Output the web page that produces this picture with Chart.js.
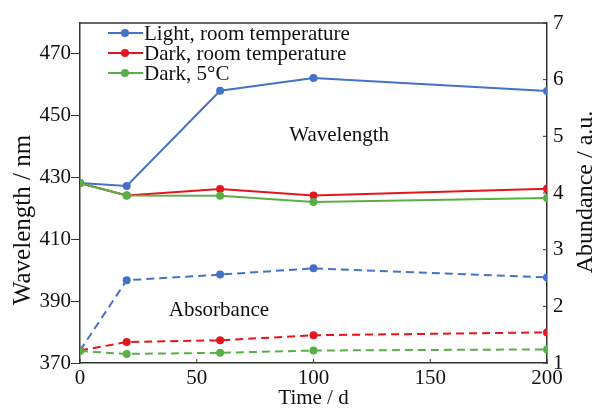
<!DOCTYPE html>
<html>
<head>
<meta charset="utf-8">
<script src="https://cdn.jsdelivr.net/npm/chart.js@4.4.1/dist/chart.umd.min.js"></script>
<style>
  html, body { margin: 0; padding: 0; background: #fff; }
  #wrap { width: 595px; height: 412px; }
</style>
</head>
<body>
<div id="wrap"><canvas id="chart" width="595" height="412"></canvas></div>
<script>
// time axis (days)
const days = [0, 20, 60, 100, 200];
const seriesNames = ['Light, room temperature', 'Dark, room temperature', 'Dark, 5°C'];
const seriesColors = ['#4472c4', '#e3161d', '#5aae48'];

// wavelength / nm (left axis, solid)
const wlLight = [428.2, 427.3, 458.1, 462.2, 458.0];
const wlDarkRoom = [428.2, 424.2, 426.3, 424.2, 426.4];
const wlDark5 = [428.2, 424.2, 424.1, 422.1, 423.4];

// abundance / a.u. (right axis, dashed)
const abLight = [1.22, 2.46, 2.56, 2.67, 2.51];
const abDarkRoom = [1.22, 1.37, 1.40, 1.49, 1.54];
const abDark5 = [1.21, 1.16, 1.18, 1.22, 1.24];

const dayTicks = [0, 50, 100, 150, 200];
const wlTicks = [370, 390, 410, 430, 450, 470];
const abTicks = [1, 2, 3, 4, 5, 6, 7];

const FONT = 'Liberation Serif, Times New Roman, serif';

function pts(ys) {
    return days.map((d, i) => ({ x: d, y: ys[i] }));
}

function line(idx, ys, axis, dashed) {
    return {
        label: seriesNames[idx],
        data: pts(ys),
        yAxisID: axis,
        order: 2 - idx, // green drawn on top, like the original
        borderColor: seriesColors[idx],
        backgroundColor: seriesColors[idx],
        borderWidth: 2,
        borderDash: dashed ? [8, 5] : [],
        pointRadius: 4,
        pointHoverRadius: 4,
        pointBorderWidth: 0,
        fill: false,
        tension: 0
    };
}

function vText(ctx, text, x, y) {
    ctx.save();
    ctx.translate(x, y);
    ctx.rotate(-Math.PI / 2);
    ctx.fillText(text, 0, 0);
    ctx.restore();
}

// frame, inward ticks, legend, axis titles and in-plot labels
const extras = {
    id: 'extras',
    afterDraw(chart) {
        const ctx = chart.ctx;
        const a = chart.chartArea;
        const x = chart.scales.x;
        const yr = chart.scales.yr;
        const yl = chart.scales.y;
        ctx.save();
        ctx.strokeStyle = '#333';
        ctx.lineWidth = 1.5;
        ctx.beginPath();
        ctx.moveTo(a.left, a.top);
        ctx.lineTo(a.right, a.top);
        ctx.stroke();

        ctx.lineWidth = 1;
        ctx.beginPath();
        dayTicks.forEach(v => {
            const px = x.getPixelForValue(v);
            ctx.moveTo(px, a.bottom);
            ctx.lineTo(px, a.bottom - 4);
        });
        abTicks.forEach(v => {
            const py = yr.getPixelForValue(v);
            ctx.moveTo(a.right, py);
            ctx.lineTo(a.right - 4, py);
        });
        ctx.stroke();

        // legend
        ctx.font = '21px ' + FONT;
        ctx.textBaseline = 'middle';
        ctx.textAlign = 'left';
        seriesNames.forEach((n, i) => {
            const ly = a.top + 10 + i * 20;
            ctx.strokeStyle = seriesColors[i];
            ctx.fillStyle = seriesColors[i];
            ctx.lineWidth = 2;
            ctx.beginPath();
            ctx.moveTo(a.left + 28, ly);
            ctx.lineTo(a.left + 63, ly);
            ctx.stroke();
            ctx.beginPath();
            ctx.arc(a.left + 45, ly, 4, 0, Math.PI * 2);
            ctx.fill();
            ctx.fillStyle = '#111';
            ctx.fillText(n, a.left + 64, ly + 1);
        });

        ctx.textAlign = 'center';
        ctx.fillText('Wavelength', x.getPixelForValue(111), yl.getPixelForValue(443.7));
        ctx.fillText('Absorbance', x.getPixelForValue(59.5), yl.getPixelForValue(387));

        // axis titles
        ctx.fillText('Time / d', (a.left + a.right) / 2, 398);
        ctx.font = '25px ' + FONT;
        vText(ctx, 'Wavelength / nm', 23, 220);
        ctx.font = '24px ' + FONT;
        vText(ctx, 'Abundance / a.u.', 586, 192);
        ctx.restore();
    }
};

new Chart(document.getElementById('chart'), {
    type: 'line',
    data: {
        datasets: [
            line(0, wlLight, 'y', false),
            line(1, wlDarkRoom, 'y', false),
            line(2, wlDark5, 'y', false),
            line(0, abLight, 'yr', true),
            line(1, abDarkRoom, 'yr', true),
            line(2, abDark5, 'yr', true)
        ]
    },
    options: {
        responsive: false,
        animation: false,
        layout: { padding: { top: 23, left: 0, right: 0, bottom: 0 } },
        plugins: {
            legend: { display: false },
            tooltip: { enabled: false }
        },
        scales: {
            x: {
                type: 'linear',
                min: 0,
                max: 200,
                afterBuildTicks: s => { s.ticks = dayTicks.map(v => ({ value: v })); },
                afterFit: s => { s.height = 49; },
                grid: { display: false, drawTicks: false },
                border: { display: true, color: '#333', width: 1.5 },
                ticks: { color: '#111', font: { family: FONT, size: 21 }, padding: 3, maxRotation: 0 }
            },
            y: {
                position: 'left',
                min: 370,
                max: 480,
                afterBuildTicks: s => { s.ticks = wlTicks.map(v => ({ value: v })); },
                afterFit: s => { s.width = 80; },
                grid: { display: true, drawOnChartArea: false, drawTicks: true, tickLength: 9, color: '#333' },
                border: { display: true, color: '#333', width: 1.5 },
                ticks: { color: '#111', font: { family: FONT, size: 21 }, padding: 0 }
            },
            yr: {
                position: 'right',
                min: 1,
                max: 7,
                afterBuildTicks: s => { s.ticks = abTicks.map(v => ({ value: v })); },
                afterFit: s => { s.width = 48; },
                grid: { display: false, drawTicks: false },
                border: { display: true, color: '#333', width: 1.5 },
                ticks: { color: '#111', font: { family: FONT, size: 21 }, padding: 6 }
            }
        }
    },
    plugins: [extras]
});
</script>
</body>
</html>
